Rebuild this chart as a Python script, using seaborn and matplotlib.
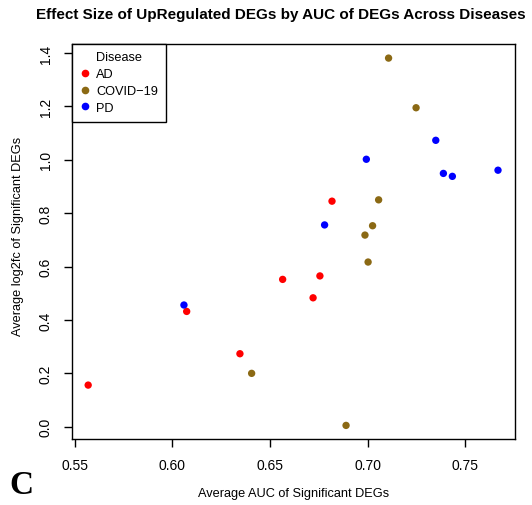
import pandas as pd
import seaborn as sns
import matplotlib.pyplot as plt

# values
auc_ad = [0.5568, 0.6073, 0.6346, 0.6565, 0.6721, 0.6756, 0.6818]
lfc_ad = [0.156, 0.432, 0.2735, 0.552, 0.483, 0.565, 0.845]
auc_covid = [0.6406, 0.6890, 0.7108, 0.7249, 0.7057, 0.7026, 0.6987, 0.7003]
lfc_covid = [0.200, 0.005, 1.381, 1.195, 0.850, 0.753, 0.718, 0.617]
auc_pd = [0.6059, 0.6780, 0.6994, 0.7350, 0.7389, 0.7435, 0.7669]
lfc_pd = [0.456, 0.756, 1.002, 1.073, 0.949, 0.938, 0.961]

diseases = ["AD", "COVID-19", "PD"]
disease_labels = ["AD", "COVID\u221219", "PD"]
colors = ["#FF0000", "#8B6914", "#0000FF"]
xticks = [0.55, 0.60, 0.65, 0.70, 0.75]
yticks = [0.0, 0.2, 0.4, 0.6, 0.8, 1.0, 1.2, 1.4]

df = pd.concat([
    pd.DataFrame({"auc": auc_ad, "lfc": lfc_ad, "Disease": "AD"}),
    pd.DataFrame({"auc": auc_covid, "lfc": lfc_covid, "Disease": "COVID-19"}),
    pd.DataFrame({"auc": auc_pd, "lfc": lfc_pd, "Disease": "PD"}),
])

sns.set_style("white")
plt.rcParams["font.family"] = ["Liberation Sans", "DejaVu Sans"]
plt.rcParams["text.color"] = "black"
plt.rcParams["xtick.color"] = "black"
plt.rcParams["ytick.color"] = "black"

fig = plt.figure(figsize=(5.32, 5.06), dpi=100)
ax = fig.add_axes([0.1353, 0.1304, 0.8327, 0.7813])

sns.scatterplot(data=df, x="auc", y="lfc", hue="Disease", hue_order=diseases,
                palette=colors, s=28, linewidth=0, ax=ax, legend=False)

ax.set_xlim(0.5485, 0.7756)
ax.set_ylim(-0.046, 1.435)
ax.set_xticks(xticks)
ax.set_xticklabels([f"{v:.2f}" for v in xticks], fontsize=10)
ax.set_yticks(yticks)
ax.set_yticklabels([f"{v:.1f}" for v in yticks], fontsize=10, rotation=90, va="center")
ax.tick_params(axis="both", direction="out", length=6, width=1, color="black",
               bottom=True, left=True, pad=8)
for sp in ax.spines.values():
    sp.set_color("black")
    sp.set_linewidth(1)

ax.set_xlabel("")
ax.set_ylabel("")
fig.text(0.5517, 0.0237, "Average AUC of Significant DEGs", ha="center", va="center", fontsize=9.2)
fig.text(0.034, 0.532, "Average log2fc of Significant DEGs", ha="center", va="center",
         rotation=90, fontsize=9.2)
fig.text(0.528, 0.970, "Effect Size of UpRegulated DEGs by AUC of DEGs Across Diseases",
         ha="center", va="center", fontsize=11, fontweight="bold")
fig.text(0.018, 0.01, "C", fontsize=24, fontweight="bold", family="Liberation Serif",
         ha="left", va="bottom")

handles = [plt.Line2D([], [], marker="o", linestyle="", markersize=5.5,
                      markerfacecolor=c, markeredgewidth=0) for c in colors]
leg = ax.legend(handles, disease_labels, title="Disease", loc="upper left",
                bbox_to_anchor=(0, 1), borderaxespad=0, fancybox=False,
                edgecolor="black", framealpha=1, fontsize=9.2, title_fontsize=9.2,
                handletextpad=0.4, handlelength=0.9, borderpad=0.6, labelspacing=0.38)
leg.get_frame().set_linewidth(1)

fig.savefig("out.png", dpi=100)
